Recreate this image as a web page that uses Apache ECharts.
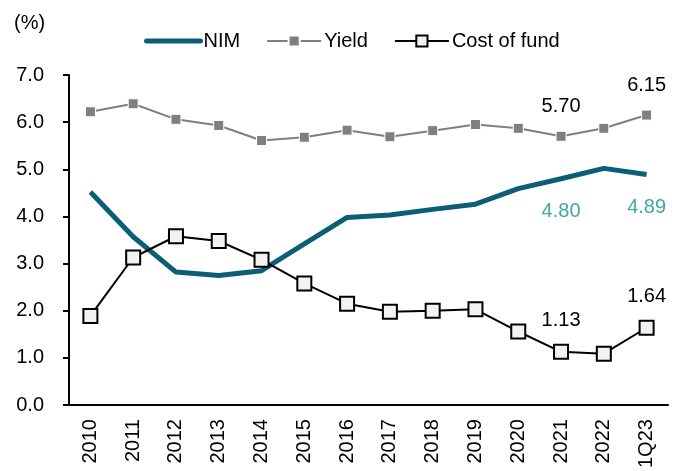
<!DOCTYPE html>
<html>
<head>
<meta charset="utf-8">
<script src="https://cdn.jsdelivr.net/npm/echarts@6/dist/echarts.min.js"></script>
<style>
  html, body { margin: 0; padding: 0; background: #ffffff; }
  #chart { width: 685px; height: 471px; }
</style>
</head>
<body>
<div id="chart"></div>
<script>
const categories = ['2010', '2011', '2012', '2013', '2014', '2015', '2016', '2017', '2018', '2019', '2020', '2021', '2022', '1Q23']
const nim = [4.52, 3.57, 2.82, 2.75, 2.85, 3.42, 3.98, 4.03, 4.15, 4.26, 4.59, 4.80, 5.02, 4.89]
const yieldRate = [6.22, 6.39, 6.06, 5.93, 5.61, 5.68, 5.83, 5.69, 5.82, 5.95, 5.87, 5.70, 5.87, 6.15]
const costOfFund = [1.89, 3.13, 3.58, 3.48, 3.08, 2.58, 2.15, 1.98, 2.00, 2.03, 1.56, 1.13, 1.09, 1.64]
// only these points carry a value label
const labelled = ['2021', '1Q23']

const font = 'Liberation Sans, Arial, sans-serif'

const pick = (arr) => arr.map((v, i) => labelled.includes(categories[i]) ? v : null)
const valueLabel = (p) => labelled.includes(p.name) ? p.value.toFixed(2) : ''

const chart = echarts.init(document.getElementById('chart'))

const option = {
  animation: false,
  textStyle: { fontFamily: font },
  grid: { left: 69, right: 17, top: 75, bottom: 62 },
  graphic: [
    { type: 'text', left: 14, top: 13, style: { text: '(%)', font: '20px ' + font, fill: '#000' } }
  ],
  legend: {
    top: 26,
    left: 139,
    itemGap: 26,
    itemWidth: 54,
    itemHeight: 14,
    textStyle: { fontSize: 20, color: '#000', fontFamily: font, padding: [0, 0, 0, -2] },
    data: [
      { name: 'NIM', itemStyle: { opacity: 0 }, lineStyle: { width: 5, cap: 'round' } },
      'Yield',
      'Cost of fund'
    ]
  },
  xAxis: {
    type: 'category',
    data: categories,
    boundaryGap: true,
    axisLine: { lineStyle: { color: '#000', width: 2 } },
    axisTick: { length: 6, lineStyle: { color: '#000', width: 2 } },
    axisLabel: { rotate: 90, color: '#000', fontSize: 20, margin: 14, fontFamily: font }
  },
  yAxis: {
    type: 'value',
    min: 0,
    max: 7,
    interval: 1,
    splitLine: { show: false },
    axisLine: { show: true, lineStyle: { color: '#000', width: 2 } },
    axisTick: { show: true, length: 6, lineStyle: { color: '#000', width: 2 } },
    axisLabel: {
      color: '#000', fontSize: 20, margin: 25, fontFamily: font,
      formatter: (v) => v.toFixed(1)
    }
  },
  series: [
    {
      name: 'NIM',
      type: 'line',
      data: nim,
      symbol: 'none',
      z: 3,
      lineStyle: { color: '#0b5e76', width: 5 },
      itemStyle: { color: '#0b5e76' }
    },
    {
      name: 'NIM labels',
      type: 'scatter',
      data: pick(nim),
      symbolSize: 0,
      silent: true,
      label: {
        show: true, position: 'bottom', distance: 23,
        color: '#14918b', fontSize: 20, fontFamily: font,
        formatter: (p) => p.value.toFixed(2)
      }
    },
    {
      name: 'Yield',
      type: 'line',
      data: yieldRate,
      symbol: 'rect',
      symbolSize: 10,
      z: 2,
      lineStyle: { color: '#7f7f7f', width: 2 },
      itemStyle: { color: '#7f7f7f', borderColor: '#ffffff', borderWidth: 1 },
      label: {
        show: true, position: 'top', distance: 14,
        color: '#000', fontSize: 20, fontFamily: font,
        formatter: valueLabel
      }
    },
    {
      name: 'Cost of fund',
      type: 'line',
      data: costOfFund,
      symbol: 'rect',
      symbolSize: 14,
      showAllSymbol: true,
      z: 4,
      lineStyle: { color: '#000', width: 2 },
      itemStyle: { color: '#f2f2f2', borderColor: '#000', borderWidth: 2 },
      label: {
        show: true, position: 'top', distance: 13,
        color: '#000', fontSize: 20, fontFamily: font,
        formatter: valueLabel
      }
    }
  ]
}

chart.setOption(option)
</script>
</body>
</html>
